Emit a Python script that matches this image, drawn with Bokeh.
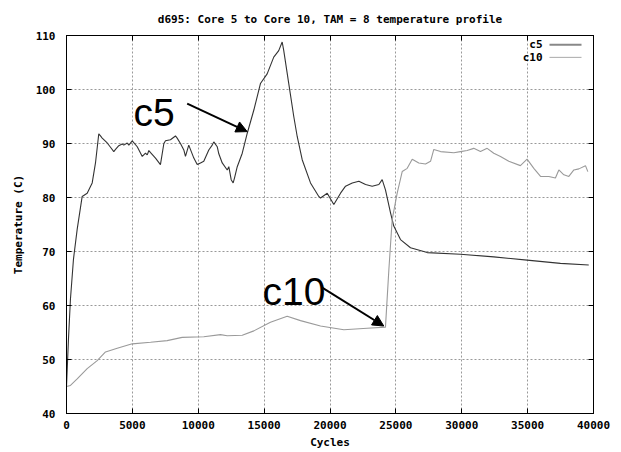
from bokeh.plotting import figure
from bokeh.models import Range1d, SingleIntervalTicker, LinearAxis, Arrow, NormalHead, Label
from bokeh.core.properties import value
from bokeh.embed import file_html
from bokeh.resources import INLINE

# ---- data ----
c5_x = [0, 150, 300, 530, 810, 1190, 1570, 1950, 2200, 2450, 2580, 2710, 3090, 3340, 3590,
        3720, 3970, 4225, 4350, 4610, 4730, 4990, 5370, 5750, 5995, 6130, 6250, 6380, 6755,
        7130, 7390, 7515, 7890, 8270, 8400, 8650, 8905, 9030, 9280, 9665, 9920, 10170, 10420,
        10800, 11060, 11180, 11440, 11560, 11820, 12200, 12320, 12500, 12650, 12750, 12960,
        13340, 13720, 14220, 14720, 15230, 15730, 16110, 16370, 16490, 16870, 17250, 17510,
        17890, 18520, 19150, 19280, 19790, 20290, 20800, 21180, 21690, 22190, 22700, 23200,
        23710, 23960, 24210, 24590, 24840, 25350, 26110, 27380, 29900, 32430, 34960, 37490,
        39640]
c5_y = [45.0, 53.8, 61.2, 68.6, 74.1, 80.2, 80.8, 82.7, 86.4, 91.8, 91.4, 91.0, 90.1, 89.3,
        88.5, 88.9, 89.6, 89.9, 89.7, 90.1, 89.7, 90.5, 89.4, 87.6, 88.2, 87.9, 88.7, 88.3,
        87.3, 86.1, 90.0, 90.5, 90.7, 91.4, 91.0, 90.0, 88.8, 87.6, 89.7, 87.3, 86.1, 86.4,
        86.7, 88.8, 89.7, 90.3, 89.4, 88.1, 86.4, 85.1, 85.7, 83.3, 82.7, 83.6, 85.7, 88.2,
        91.9, 96.2, 101.1, 102.9, 106.0, 107.2, 108.8, 107.2, 101.1, 95.0, 91.3, 87.0, 82.7,
        80.2, 79.9, 80.8, 78.7, 80.8, 82.1, 82.7, 83.0, 82.4, 82.1, 82.4, 83.3, 81.4, 77.2,
        74.7, 72.2, 70.7, 69.8, 69.5, 69.0, 68.4, 67.8, 67.5]

c10_x = [0, 300, 810, 1570, 2330, 2960, 3850, 4990, 6380, 7640, 8780, 10420, 11690, 12200,
         13340, 14220, 15480, 16750, 17760, 19280, 21050, 22820, 24210, 24470, 24720, 25100,
         25480, 25860, 26240, 26740, 27250, 27630, 27880, 28390, 29400, 29900, 30410, 30910,
         31420, 31930, 32430, 32940, 33570, 34450, 34960, 35470, 35980, 36610, 37110, 37370,
         37750, 38130, 38510, 38890, 39390, 39570]
c10_y = [45.0, 45.2, 46.4, 48.3, 49.8, 51.4, 52.1, 52.9, 53.2, 53.5, 54.1, 54.2, 54.6, 54.4,
         54.5, 55.3, 56.9, 58.0, 57.2, 56.2, 55.5, 55.8, 56.0, 66.7, 75.9, 80.8, 84.8, 85.4,
         87.1, 86.4, 86.2, 86.7, 88.9, 88.5, 88.3, 88.5, 88.7, 89.1, 88.5, 89.1, 88.2, 87.6,
         86.7, 85.9, 87.1, 85.4, 83.9, 83.9, 83.6, 85.1, 84.2, 83.9, 85.1, 85.3, 85.9, 84.8]

series_names = ["c5", "c10"]
x_range = (0, 40000)
y_range = (40, 110)

FONT = "DejaVu Sans Mono"
FS = "11px"
C5_COLOR = "#333333"
C10_COLOR = "#9a9a9a"

p = figure(width=620, height=451, output_backend="svg", toolbar_location=None,
           x_range=Range1d(*x_range), y_range=Range1d(*y_range),
           min_border_left=66, min_border_right=27, min_border_top=35, min_border_bottom=36,
           title="d695: Core 5 to Core 10, TAM = 8 temperature profile")

p.title.align = "center"
p.title.text_font = FONT
p.title.text_font_size = FS
p.title.text_font_style = "bold"
p.title.text_color = "#000000"
p.title.standoff = 20

p.outline_line_color = "black"
p.outline_line_width = 1
p.background_fill_color = "white"
p.border_fill_color = "white"

p.xaxis.ticker = SingleIntervalTicker(interval=5000)
p.yaxis.ticker = SingleIntervalTicker(interval=10)
for ax in (p.xaxis, p.yaxis):
    ax.major_tick_in = 5
    ax.major_tick_out = 0
    ax.minor_tick_in = 0
    ax.minor_tick_out = 0
    ax.axis_line_color = "black"
    ax.major_tick_line_color = "black"
    ax.major_label_text_font = FONT
    ax.major_label_text_font_size = FS
    ax.major_label_text_font_style = "bold"
    ax.major_label_text_color = "black"
    ax.axis_label_text_font = FONT
    ax.axis_label_text_font_size = FS
    ax.axis_label_text_font_style = "bold"
    ax.axis_label_text_color = "black"
p.xaxis.axis_label = "Cycles"
p.yaxis.axis_label = "Temperature (C)"
p.xaxis.major_label_standoff = 7
p.xaxis.axis_label_standoff = 4
p.yaxis.major_label_standoff = 11
p.yaxis.axis_label_standoff = 8

# mirrored inward ticks on the top and right edges (labels hidden)
top_axis = LinearAxis(ticker=SingleIntervalTicker(interval=5000), major_tick_in=5,
                      major_tick_out=0, minor_tick_in=0, minor_tick_out=0,
                      major_label_text_font_size="6px", major_label_text_color=None,
                      major_label_standoff=0, axis_line_color="black")
p.add_layout(top_axis, "above")
right_axis = LinearAxis(ticker=SingleIntervalTicker(interval=10), major_tick_in=5,
                        major_tick_out=0, minor_tick_in=0, minor_tick_out=0,
                        major_label_text_font_size="6px", major_label_text_color=None,
                        major_label_standoff=0, axis_line_color="black")
p.add_layout(right_axis, "right")

p.xgrid.ticker = SingleIntervalTicker(interval=5000)
p.ygrid.ticker = SingleIntervalTicker(interval=10)
p.grid.grid_line_color = "#999999"
p.grid.grid_line_dash = "2 2"
p.grid.grid_line_width = 1

p.line(c5_x, c5_y, line_color=C5_COLOR, line_width=1.1)
p.line(c10_x, c10_y, line_color=C10_COLOR, line_width=1.1)

# legend (label left of sample, as in the original)
p.text(x=[36130, 36130], y=[108.3, 105.95], text=series_names, text_font=value(FONT),
       text_font_size=FS, text_font_style="bold", text_align="right",
       text_baseline="middle", text_color="black")
p.segment(x0=[36660, 36660], y0=[108.3, 105.95], x1=[39090, 39090], y1=[108.3, 105.95],
          line_color=["#888888", "#aaaaaa"], line_width=[2, 1])

# annotations
p.add_layout(Label(x=5085, y=95.8, text="c5", text_font="Liberation Sans",
                   text_font_size="39px", text_color="black", text_baseline="alphabetic"))
p.add_layout(Label(x=14877, y=62.66, text="c10", text_font="Liberation Sans",
                   text_font_size="39px", text_color="black", text_baseline="alphabetic"))
p.add_layout(Arrow(x_start=9160, y_start=97.4, x_end=13715, y_end=92.2, line_width=2,
                   line_color="black",
                   end=NormalHead(size=11, fill_color="black", line_color="black")))
p.add_layout(Arrow(x_start=19408, y_start=63.3, x_end=24083, y_end=56.2, line_width=2,
                   line_color="black",
                   end=NormalHead(size=11, fill_color="black", line_color="black")))

open("out.html", "w").write(file_html(p, INLINE))
